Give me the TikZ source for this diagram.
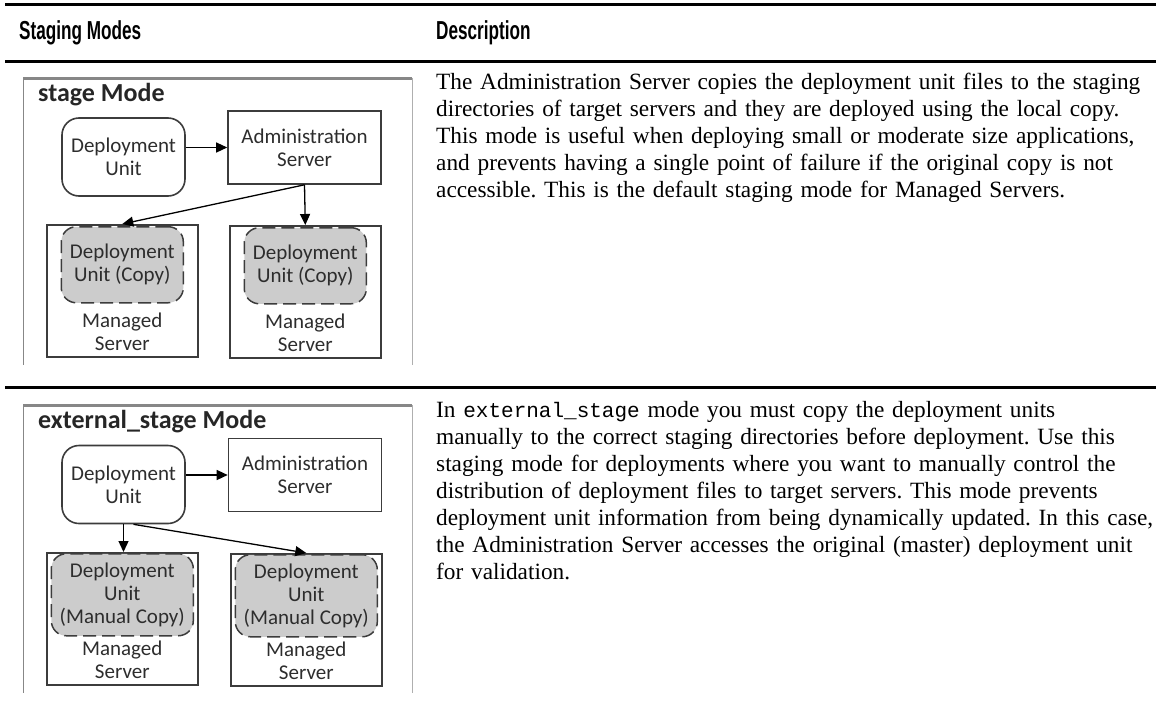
\documentclass[tikz,border=0pt]{standalone}
\usepackage{fontspec}
\usepackage{xcolor}
\usepackage{tikz}
\usetikzlibrary{arrows.meta,positioning}
\setmainfont{Liberation Serif}
\setmonofont{Liberation Mono}
\newfontfamily\diagfont{Carlito}
\newfontfamily\headfont[FakeStretch=0.66]{Liberation Sans}
\definecolor{linegray}{RGB}{60,60,60}
\definecolor{textgray}{RGB}{45,45,45}
\definecolor{framegray}{RGB}{135,135,135}
\definecolor{edgegray}{RGB}{175,175,175}
\definecolor{copyfill}{RGB}{204,204,204}

\tikzset{
  unitbox/.style={draw=linegray, line width=1.6pt, rounded corners=17pt, minimum width=123pt, minimum height=78pt, align=center, font=\diagfont\fontsize{21}{23}\selectfont, text=textgray},
  adminbox/.style={draw=linegray, line width=1.6pt, minimum width=153pt, minimum height=73pt, align=center, font=\diagfont\fontsize{21}{23}\selectfont, text=textgray},
  srvbox/.style={draw=linegray, line width=1.6pt, minimum width=151pt, minimum height=132pt, anchor=north west},
  copybox/.style={draw=linegray, fill=copyfill, line width=1.5pt, dash pattern=on 13pt off 6pt, rounded corners=15pt, align=center, font=\diagfont\fontsize{21}{23}\selectfont, text=textgray, anchor=north},
  srvlabel/.style={align=center, inner sep=1pt, font=\diagfont\fontsize{21}{23}\selectfont, text=textgray},
  modetitle/.style={anchor=base west, inner sep=0pt, font=\diagfont\bfseries\fontsize{26}{28}\selectfont, text=black!85},
  desctext/.style={anchor=base west, inner sep=0pt, text width=760pt, align=left, font=\frenchspacing\fontsize{23.3}{27}\selectfont},
  colhead/.style={anchor=base west, inner sep=0pt, font=\headfont\bfseries\fontsize{26}{28}\selectfont},
  arr/.style={-{Triangle[length=11pt,width=10pt]}, line width=1.3pt, black},
}

\begin{document}
\begin{tikzpicture}[x=1pt,y=-1pt]
    \useasboundingbox (0,0) rectangle (1156,715);

    % table rules and heads
    \draw[line width=3pt] (5,4) -- (1156,4);
    \draw[line width=3pt] (5,61) -- (1156,61);
    \draw[line width=3pt] (5,387) -- (1156,387);
    \node[colhead] (headmodes) at (19,39) {Staging Modes};
    \node[colhead] (headdesc) at (436,39) {Description};

    % stage mode frame
    \draw[framegray, line width=3pt] (23,78.5) -- (412,78.5);
    \draw[framegray, line width=1pt] (23,78) -- (23,365);
    \draw[edgegray, line width=1pt] (412,78) -- (412,365);
    \node[modetitle] (stagetitle) at (38,101) {stage Mode};

    \node[unitbox] (du1) at (123.5,157) {Deployment\\Unit};
    \node[adminbox] (adm1) at (304.5,147.5) {Administration\\Server};

    \node[srvbox] (ms1l) at (46,224) {};
    \node[copybox, minimum width=122pt, minimum height=76pt] (cp1l) at ([yshift=-2pt]ms1l.north) {Deployment\\Unit (Copy)};
    \node[srvlabel, above=6pt of ms1l.south] (lb1l) {Managed\\Server};

    \node[srvbox] (ms1r) at (229,225) {};
    \node[copybox, minimum width=122pt, minimum height=76pt] (cp1r) at ([yshift=-2pt]ms1r.north) {Deployment\\Unit (Copy)};
    \node[srvlabel, above=6pt of ms1r.south] (lb1r) {Managed\\Server};

    \draw[arr] (du1.east |- adm1.west) -- (adm1.west);
    \draw[arr] (adm1.south) -- (ms1l.north);
    \draw[arr] (adm1.south) -- (ms1r.north);

    \node[desctext] (desc1) at (436,89) {The Administration Server copies the deployment unit files to the staging\\
    directories of target servers and they are deployed using the local copy.\\
    This mode is useful when deploying small or moderate size applications,\\
    and prevents having a single point of failure if the original copy is not\\
    accessible. This is the default staging mode for Managed Servers.};

    % external_stage mode frame
    \draw[framegray, line width=3pt] (23,405.5) -- (412,405.5);
    \draw[framegray, line width=1pt] (23,405) -- (23,693);
    \draw[edgegray, line width=1pt] (412,405) -- (412,693);
    \node[modetitle] (exttitle) at (38,428) {external\_stage Mode};

    \node[unitbox] (du2) at (123.5,484.5) {Deployment\\Unit};
    \node[adminbox] (adm2) at (305,475) {Administration\\Server};

    \node[srvbox] (ms2l) at (46,552) {};
    \node[copybox, minimum width=142pt, minimum height=82pt] (cp2l) at ([yshift=-1pt]ms2l.north) {Deployment\\Unit\\(Manual Copy)};
    \node[srvlabel, above=6pt of ms2l.south] (lb2l) {Managed\\Server};

    \node[srvbox] (ms2r) at (230,553) {};
    \node[copybox, minimum width=142pt, minimum height=82pt] (cp2r) at ([yshift=-1pt]ms2r.north) {Deployment\\Unit\\(Manual Copy)};
    \node[srvlabel, above=6pt of ms2r.south] (lb2r) {Managed\\Server};

    \draw[arr] (du2.east |- adm2.west) -- (adm2.west);
    \draw[arr] (du2.south) -- (du2.south |- ms2l.north);
    \draw[arr] ([xshift=10pt]du2.south) -- (ms2r.north);

    \node[desctext] (desc2) at (436,417) {In {\ttfamily\fontsize{21}{27}\selectfont external\_stage} mode you must copy the deployment units\\
    manually to the correct staging directories before deployment. Use this\\
    staging mode for deployments where you want to manually control the\\
    distribution of deployment files to target servers. This mode prevents\\
    deployment unit information from being dynamically updated. In this case,\\
    the Administration Server accesses the original (master) deployment unit\\
    for validation.};
\end{tikzpicture}
\end{document}
